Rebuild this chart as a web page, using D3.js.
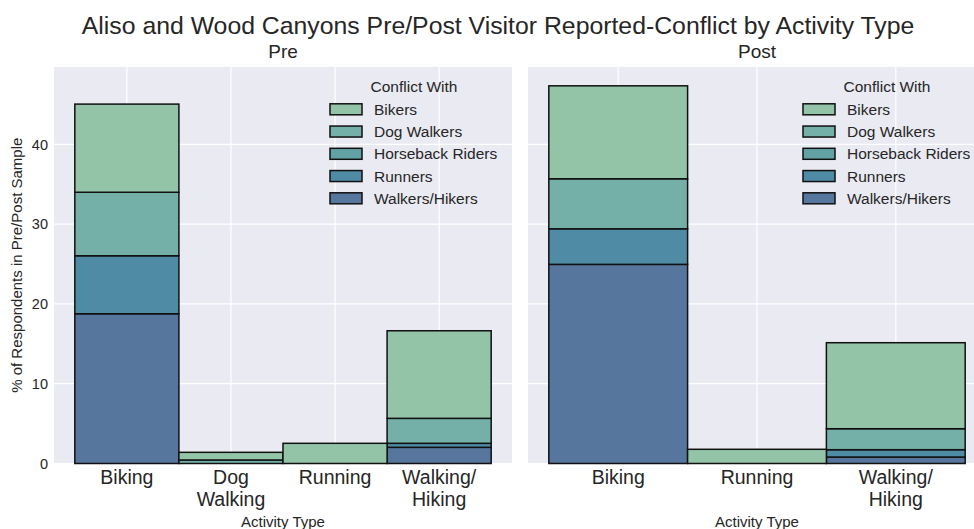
<!DOCTYPE html>
<html>
<head>
<meta charset="utf-8">
<script src="https://cdn.jsdelivr.net/npm/d3@7"></script>
<style>
  body { margin: 0; background: #fff; }
  svg { display: block; font-family: "Liberation Sans", Arial, sans-serif; }
</style>
</head>
<body>
<div id="chart"></div>
<script>
// Conflict groups (stacked with Walkers/Hikers at the bottom)
const conflictGroups = ['Bikers', 'Dog Walkers', 'Horseback Riders', 'Runners', 'Walkers/Hikers'];
const groupColors = ['#94c4a8', '#74b0a7', '#62a2a5', '#4f8ba4', '#56769d'];

// Pre sample
const categoriesPre = ['Biking', 'Dog Walking', 'Running', 'Walking/Hiking'];
const tickLabelsPre = ['Biking', 'Dog\nWalking', 'Running', 'Walking/\nHiking'];
const bikersPre = [11.05, 0.96, 2.53, 10.98];
const dogWalkersPre = [7.96, 0.44, 0, 3.13];
const horsebackPre = [0, 0, 0, 0];
const runnersPre = [7.27, 0, 0, 0.50];
const walkersPre = [18.77, 0, 0, 2.03];

// Post sample
const categoriesPost = ['Biking', 'Running', 'Walking/Hiking'];
const tickLabelsPost = ['Biking', 'Running', 'Walking/\nHiking'];
const bikersPost = [11.65, 1.78, 10.78];
const dogWalkersPost = [6.27, 0, 2.63];
const horsebackPost = [0, 0, 0];
const runnersPost = [4.46, 0, 0.92];
const walkersPost = [24.96, 0, 0.81];

const yTicks = [0, 10, 20, 30, 40];
const yMax = 49.7;

const width = 974, height = 529;
const plotTop = 67, plotBottom = 463.5, panelW = 458;

const svg = d3.select('#chart').append('svg')
  .attr('width', width)
  .attr('height', height);

svg.append('text')
  .attr('x', 498).attr('y', 34)
  .attr('text-anchor', 'middle')
  .attr('font-size', '24.8px')
  .attr('fill', '#262626')
  .text('Aliso and Wood Canyons Pre/Post Visitor Reported-Conflict by Activity Type');

const y = d3.scaleLinear().domain([0, yMax]).range([plotBottom, plotTop]);

function buildRows(categories, series) {
  return categories.map((c, i) => {
    const row = { category: c };
    conflictGroups.forEach((g, k) => { row[g] = series[k][i]; });
    return row;
  });
}

function drawPanel(x0, title, categories, tickLabels, series, outer, showY) {
  const g = svg.append('g').attr('transform', `translate(${x0},0)`);

  const x = d3.scaleBand()
    .domain(categories)
    .range([0, panelW])
    .paddingInner(0)
    .paddingOuter(outer);

  g.append('rect')
    .attr('x', 0).attr('y', plotTop)
    .attr('width', panelW).attr('height', plotBottom - plotTop)
    .attr('fill', '#eaeaf2');

  // grid
  g.append('g').selectAll('line')
    .data(yTicks)
    .enter().append('line')
    .attr('x1', 0).attr('x2', panelW)
    .attr('y1', d => y(d)).attr('y2', d => y(d))
    .attr('stroke', '#fff').attr('stroke-width', 1.2);

  g.append('g').selectAll('line')
    .data(categories)
    .enter().append('line')
    .attr('x1', d => x(d) + x.bandwidth() / 2).attr('x2', d => x(d) + x.bandwidth() / 2)
    .attr('y1', plotTop).attr('y2', plotBottom)
    .attr('stroke', '#fff').attr('stroke-width', 1.2);

  // stacked bars
  const rows = buildRows(categories, series);
  const stack = d3.stack().keys(conflictGroups.slice().reverse());
  const layers = stack(rows);

  g.append('g').selectAll('g')
    .data(layers)
    .enter().append('g')
    .attr('fill', d => groupColors[conflictGroups.indexOf(d.key)])
    .selectAll('rect')
    .data(d => d.filter(s => s[1] - s[0] > 0))
    .enter().append('rect')
    .attr('x', d => x(d.data.category))
    .attr('width', x.bandwidth())
    .attr('y', d => y(d[1]))
    .attr('height', d => y(d[0]) - y(d[1]))
    .attr('stroke', '#111')
    .attr('stroke-width', 1.5);

  // x axis labels
  const xAxis = d3.axisBottom(x)
    .tickSize(0)
    .tickPadding(0)
    .tickFormat((d, i) => tickLabels[i]);

  const xa = g.append('g').attr('transform', `translate(0,${plotBottom})`).call(xAxis);
  xa.select('.domain').remove();
  xa.selectAll('text')
    .attr('font-size', '19.5px')
    .attr('fill', '#262626')
    .attr('font-family', '"Liberation Sans", Arial, sans-serif')
    .attr('dy', null)
    .attr('y', 0)
    .each(function (d, i) {
      const t = d3.select(this);
      const lines = tickLabels[i].split('\n');
      t.text(null);
      lines.forEach((l, j) => {
        t.append('tspan').attr('x', 0).attr('y', 20.5 + j * 22).text(l);
      });
    });

  g.append('text')
    .attr('x', panelW / 2).attr('y', 527)
    .attr('text-anchor', 'middle')
    .attr('font-size', '15px')
    .attr('fill', '#262626')
    .text('Activity Type');

  g.append('text')
    .attr('x', panelW / 2).attr('y', 58)
    .attr('text-anchor', 'middle')
    .attr('font-size', '19px')
    .attr('fill', '#262626')
    .text(title);

  if (showY) {
    const yAxis = d3.axisLeft(y).tickValues(yTicks).tickSize(0).tickPadding(6);
    const ya = g.append('g').call(yAxis);
    ya.select('.domain').remove();
    ya.selectAll('text')
      .attr('font-size', '14.5px')
      .attr('fill', '#262626')
      .attr('font-family', '"Liberation Sans", Arial, sans-serif');

    g.append('text')
      .attr('transform', `translate(${22 - x0},${(plotTop + plotBottom) / 2}) rotate(-90)`)
      .attr('text-anchor', 'middle')
      .attr('font-size', '15px')
      .attr('fill', '#262626')
      .text('% of Respondents in Pre/Post Sample');
  }

  // legend
  const lg = g.append('g').attr('transform', `translate(${x0 === 54 ? 276 : 275},0)`);
  lg.append('text')
    .attr('x', 84).attr('y', 92)
    .attr('text-anchor', 'middle')
    .attr('font-size', '15.5px')
    .attr('fill', '#262626')
    .text('Conflict With');

  const items = lg.selectAll('g.item')
    .data(conflictGroups)
    .enter().append('g')
    .attr('class', 'item')
    .attr('transform', (d, i) => `translate(0,${109.3 + i * 22.25})`);

  items.append('rect')
    .attr('x', 0).attr('y', -5.5)
    .attr('width', 32).attr('height', 11)
    .attr('fill', (d, i) => groupColors[i])
    .attr('stroke', '#111')
    .attr('stroke-width', 1.5);

  items.append('text')
    .attr('x', 44).attr('y', 5.5)
    .attr('font-size', '15.5px')
    .attr('fill', '#262626')
    .text(d => d);
}

drawPanel(54, 'Pre', categoriesPre, tickLabelsPre,
  [bikersPre, dogWalkersPre, horsebackPre, runnersPre, walkersPre], 0.2, true);
drawPanel(528, 'Post', categoriesPost, tickLabelsPost,
  [bikersPost, dogWalkersPost, horsebackPost, runnersPost, walkersPost], 0.15, false);
</script>
</body>
</html>
